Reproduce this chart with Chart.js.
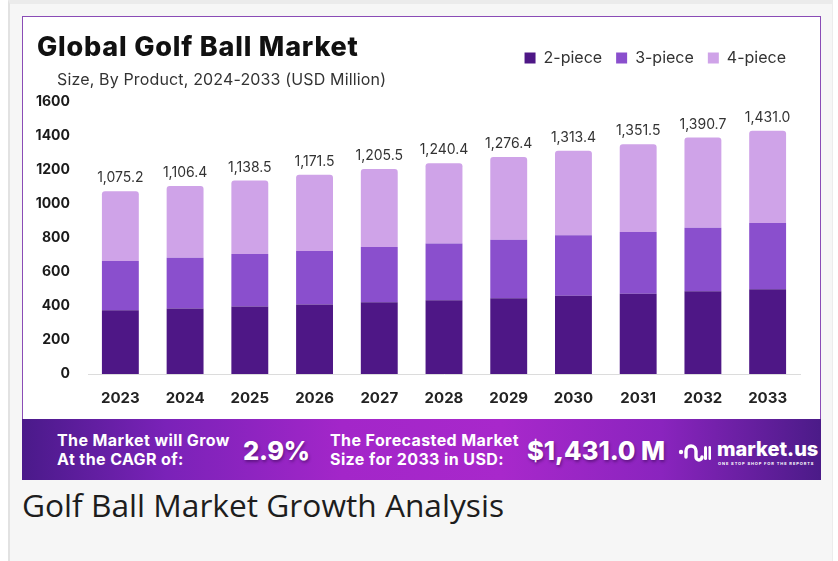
<!DOCTYPE html>
<html>
<head>
<meta charset="utf-8">
<script src="https://cdn.jsdelivr.net/npm/chart.js@4.4.1/dist/chart.umd.min.js"></script>
<style>
  html, body { margin: 0; padding: 0; background: #ffffff; }
  body { width: 838px; height: 561px; position: relative; overflow: hidden; font-family: 'Inter', sans-serif; }
  .frame { position: absolute; left: 8px; top: 0; width: 825px; height: 561px; background: #f6f6f6;
           border-left: 2px solid #e2e2e2; border-right: 1px solid #ececec; border-top: 4px solid #ebebeb; box-sizing: border-box; }
  .card { position: absolute; left: 22px; top: 16px; width: 799px; height: 404px; background: #fff;
          border: 1px solid #8a4cb6; border-bottom: none; box-sizing: border-box; }
  #chartBox { position: absolute; left: 23px; top: 17px; width: 797px; height: 401px; }
  .title { position: absolute; left: 37px; top: 33px; font: 800 27px/1 'Inter', sans-serif; color: #111; letter-spacing: 0.8px; }
  .subtitle { position: absolute; left: 57px; top: 71px; font: 400 16px/1 'Inter', sans-serif; color: #333; letter-spacing: 0.15px; }
  .banner { position: absolute; left: 22px; top: 419px; width: 799px; height: 61px;
            background: linear-gradient(90deg, #4a1a8a 0%, #7a22b8 18%, #a326c9 40%, #a828cb 60%, #8a24be 80%, #4b1b88 100%); color: #fff; }
  .banner .lbl { position: absolute; font: 700 16px/19px 'Inter', sans-serif; letter-spacing: 0.4px; }
  .banner .big { position: absolute; font: 800 25.5px/1 'Inter', sans-serif; text-shadow: 1px 2px 3px rgba(40,0,60,0.45); }
  .logo { position: absolute; left: 655px; top: 16px; width: 140px; height: 32px; }
  .logo .name { position: absolute; left: 40px; top: 4px; font: 800 20px/1 'Inter', sans-serif; }
  .logo .tag { position: absolute; left: 41px; top: 27px; font: 700 4px/1 'Inter', sans-serif; letter-spacing: 0.9px; }
  .caption { position: absolute; left: 22px; top: 489px; font: 400 31.7px/1 'Open Sans', sans-serif; color: #1d1d1d; }
</style>
</head>
<body>
<div class="frame"></div>
<div class="card"></div>
<div id="chartBox"><canvas id="chart" width="797" height="401"></canvas></div>
<div class="title">Global Golf Ball Market</div>
<div class="subtitle">Size, By Product, 2024-2033 (USD Million)</div>
<div class="banner">
  <div class="lbl" style="left:35px; top:12px;">The Market will Grow<br>At the CAGR of:</div>
  <div class="big" style="left:221px; top:19px; letter-spacing:-0.3px;">2.9%</div>
  <div class="lbl" style="left:308px; top:12px;">The Forecasted Market<br>Size for 2033 in USD:</div>
  <div class="big" style="left:505px; top:19px;">$1,431.0 M</div>
  <div class="logo">
    <svg width="34" height="30" viewBox="0 0 34 30" style="position:absolute;left:0;top:2px">
      <circle cx="4" cy="15" r="2.2" fill="#fff"/>
      <path d="M9 20 V14 a5 5 0 0 1 10 0 V20 a3 3 0 0 0 6 0" fill="none" stroke="#fff" stroke-width="3.4" stroke-linecap="round"/>
      <rect x="27" y="9" width="3" height="14" rx="1.5" fill="#fff"/>
      <rect x="31.5" y="9" width="2.5" height="14" rx="1.2" fill="#fff"/>
    </svg>
    <div class="name">market.us</div>
    <div class="tag">ONE STOP SHOP FOR THE REPORTS</div>
  </div>
</div>
<div class="caption">Golf Ball Market Growth Analysis</div>

<script>
// ── Data (USD Million) ────────────────────────────────────────────────────────
const years      = ['2023', '2024', '2025', '2026', '2027', '2028', '2029', '2030', '2031', '2032', '2033'];
const twoPiece   = [375, 385, 397, 409, 422, 434, 446, 460, 472, 487, 499];
const threePiece = [289, 299, 309, 314, 325, 333, 344, 356, 363, 374, 389];
const fourPiece  = [411.2, 422.4, 432.5, 448.5, 458.5, 473.4, 486.4, 497.4, 516.5, 529.7, 543.0];
const yTicks     = [0, 200, 400, 600, 800, 1000, 1200, 1400, 1600];

const COLORS = {
    two:   '#4e1786',
    three: '#8a4fcd',
    four:  '#cfa3e8',
};

// ── Totals printed above each stack ───────────────────────────────────────────
const stackTotals = {
    id: 'stackTotals',
    afterDatasetsDraw(chart) {
        const { ctx, data } = chart;
        const top = chart.getDatasetMeta(data.datasets.length - 1);
        ctx.save();
        ctx.font = '400 14px Inter, sans-serif';
        ctx.fillStyle = '#333';
        ctx.textAlign = 'center';
        ctx.textBaseline = 'middle';
        top.data.forEach((bar, i) => {
            const total = data.datasets.reduce((s, ds) => s + ds.data[i], 0);
            const txt = total.toLocaleString('en-US', { minimumFractionDigits: 1, maximumFractionDigits: 1 });
            ctx.fillText(txt, bar.x, bar.y - 13);
        });
        ctx.restore();
    },
};

// Extra room under the legend so the plot starts lower.
const legendGap = {
    id: 'legendGap',
    beforeInit(chart) {
        const fit = chart.legend.fit;
        chart.legend.fit = function () {
            fit.call(this);
            this.height += 26;
        };
    },
};

const bar = (label, values, color, extra = {}) => ({
    label,
    data: values,
    backgroundColor: color,
    borderWidth: 0,
    barPercentage: 0.57,
    categoryPercentage: 1,
    ...extra,
});

new Chart(document.getElementById('chart'), {
    type: 'bar',
    data: {
        labels: years,
        datasets: [
            bar('2-piece', twoPiece, COLORS.two),
            bar('3-piece', threePiece, COLORS.three),
            bar('4-piece', fourPiece, COLORS.four, { borderRadius: 3 }),
        ],
    },
    options: {
        responsive: false,
        animation: false,
        layout: { padding: { top: 19, right: 20, bottom: 0, left: 0 } },
        scales: {
            x: {
                stacked: true,
                grid: { display: false },
                border: { display: true, color: '#dcdcdc', width: 1 },
                ticks: { color: '#222', padding: 7, font: { family: 'Inter', size: 15, weight: '700' } },
                afterFit: (scale) => { scale.height = 44; },
            },
            y: {
                stacked: true,
                min: 0,
                max: 1600,
                grid: { display: false, drawTicks: false },
                border: { display: false },
                afterBuildTicks: (scale) => { scale.ticks = yTicks.map((v) => ({ value: v })); },
                ticks: {
                    color: '#1a1a1a',
                    padding: 18,
                    font: { family: 'Inter', size: 14, weight: '700' },
                    callback: (v) => String(v),
                },
                afterFit: (scale) => { scale.width = 65; },
            },
        },
        plugins: {
            legend: {
                position: 'top',
                align: 'end',
                labels: {
                    boxWidth: 11,
                    boxHeight: 11,
                    padding: 14,
                    color: '#333',
                    font: { family: 'Inter', size: 16 },
                },
            },
            tooltip: { enabled: false },
        },
    },
    plugins: [stackTotals, legendGap],
});
</script>
</body>
</html>
